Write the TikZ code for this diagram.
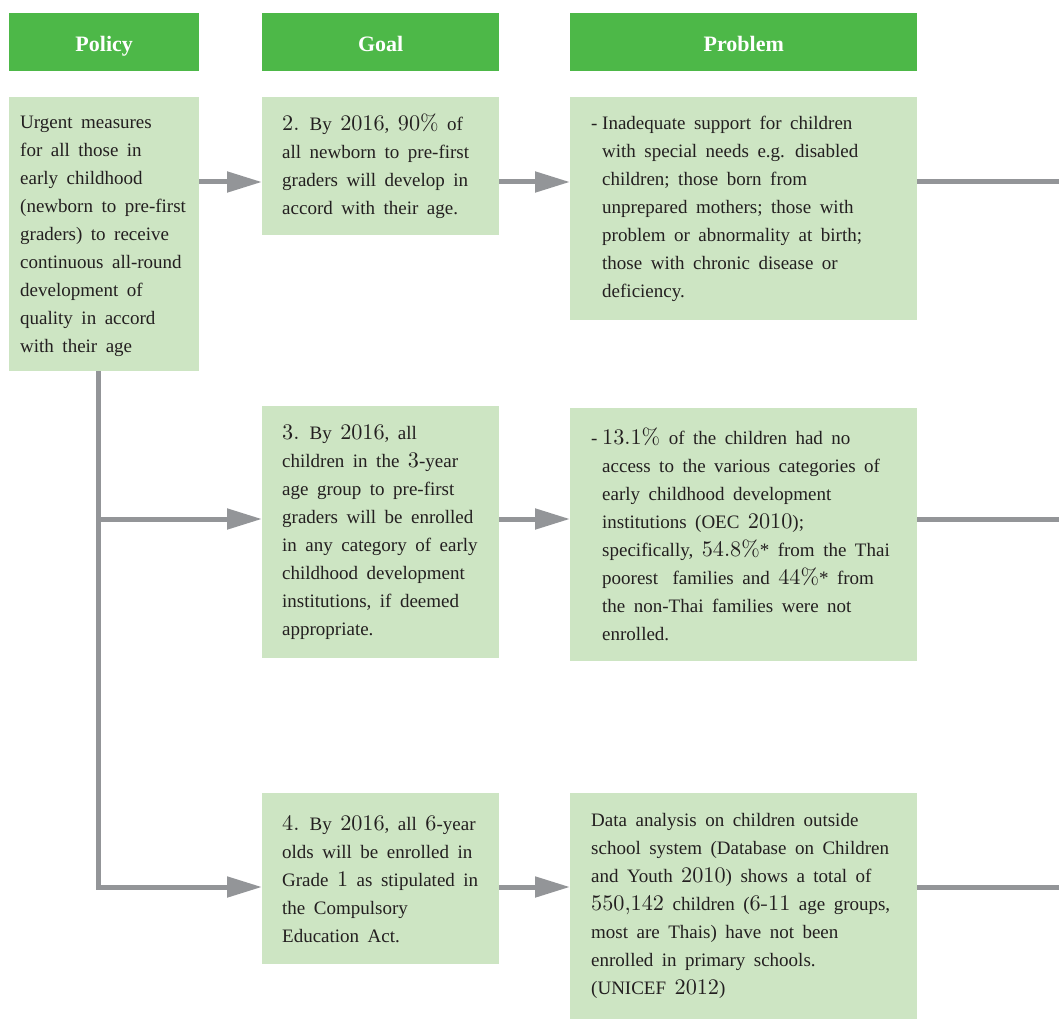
\documentclass[tikz,border=0pt]{standalone}
\usepackage{fontspec}
\setmainfont{Liberation Serif}
\newfontfamily\lmr[Scale=1.17]{lmroman10-regular.otf}
\usetikzlibrary{arrows.meta}
\definecolor{hdr}{HTML}{4DB848}
\definecolor{bx}{HTML}{CDE5C3}
\definecolor{ln}{HTML}{939598}
\definecolor{tx}{HTML}{231F20}
\newcommand\nm[1]{{\lmr #1}}
\newcommand\ind{\hspace*{11pt}}
\newcommand\dsh{\makebox[11pt][l]{-}}
\newcommand\widesp{\spaceskip=8.5pt plus 2pt minus 1pt\relax}
\begin{document}
\begin{tikzpicture}[x=1pt,y=-1pt,
 hdrbox/.style={fill=hdr, draw=none, anchor=north west, inner sep=0pt, text=white, text height=18pt, text depth=0pt, font=\fontsize{22}{26}\selectfont\bfseries},
 bxs/.style={fill=bx, draw=none, anchor=north west, inner sep=0pt},
 txt/.style={anchor=west, inner sep=0pt, align=left, text=tx, font=\fontsize{19}{28}\selectfont, execute at begin node=\widesp},
 conn/.style={draw=ln, line width=5pt},
 arr/.style={conn, -{Triangle[length=35pt,width=20pt]}}]
\useasboundingbox (0,0) rectangle (1059,1019);

% headers
\node[hdrbox, minimum width=190pt, minimum height=58pt] (hpol) at (9,13) {Policy};
\node[hdrbox, minimum width=237pt, minimum height=58pt] (hgoal) at (262,13) {Goal};
\node[hdrbox, minimum width=347pt, minimum height=58pt] (hprob) at (570,13) {Problem};

% boxes
\node[bxs, minimum width=190pt, minimum height=274pt] (pol) at (9,97) {};
\node[bxs, minimum width=237pt, minimum height=138pt] (g2) at (262,97) {};
\node[bxs, minimum width=347pt, minimum height=223pt] (p1) at (570,97) {};
\node[bxs, minimum width=237pt, minimum height=252pt] (g3) at (262,406) {};
\node[bxs, minimum width=347pt, minimum height=253pt] (p2) at (570,408) {};
\node[bxs, minimum width=237pt, minimum height=171pt] (g4) at (262,793) {};
\node[bxs, minimum width=347pt, minimum height=226pt] (p3) at (570,793) {};

% texts
\node[txt, xshift=11pt, yshift=-2pt] (tpol) at (pol.west) {Urgent measures\\for all those in\\early childhood\\(newborn to pre-first\\graders) to receive\\continuous all-round\\development of\\quality in accord\\with their age};
\node[txt, xshift=20pt] (tg2) at (g2.west) {\nm{2.} By \nm{2016}, \nm{90\%} of\\all newborn to pre-first\\graders will develop in\\accord with their age.};
\node[txt, xshift=21pt] (tp1) at (p1.west) {\dsh Inadequate support for children\\\ind with special needs e.g. disabled\\\ind children; those born from\\\ind unprepared mothers; those with\\\ind problem or abnormality at birth;\\\ind those with chronic disease or\\\ind deficiency.};
\node[txt, xshift=20pt] (tg3) at (g3.west) {\nm{3.} By \nm{2016}, all\\children in the \nm{3}-year\\age group to pre-first\\graders will be enrolled\\in any category of early\\childhood development\\institutions, if deemed\\appropriate.};
\node[txt, xshift=21pt] (tp2) at (p2.west) {\dsh \nm{13.1\%} of the children had no\\\ind access to the various categories of\\\ind early childhood development\\\ind institutions (OEC \nm{2010});\\\ind specifically, \nm{54.8\%}* from the Thai\\\ind poorest\hspace{6pt} families and \nm{44\%}* from\\\ind the non-Thai families were not\\\ind enrolled.};
\node[txt, xshift=20pt] (tg4) at (g4.west) {\nm{4.} By \nm{2016}, all \nm{6}-year\\olds will be enrolled in\\Grade \nm{1} as stipulated in\\the Compulsory\\Education Act.};
\node[txt, xshift=21pt] (tp3) at (p3.west) {Data analysis on children outside\\school system (Database on Children\\and Youth \nm{2010}) shows a total of\\\nm{550,142} children (\nm{6-11} age groups,\\most are Thais) have not been\\enrolled in primary schools.\\(UNICEF \nm{2012})};

% helper coordinates
\coordinate (r1) at (0,182);
\coordinate (r2) at (0,519);
\coordinate (r3) at (0,887);
\coordinate (tr) at (98.5,0);
\coordinate (e1) at (1059,182);
\coordinate (e2) at (1059,519);
\coordinate (e3) at (1059,887);

% connectors
\draw[arr] (pol.east |- r1) -- (g2.west |- r1);
\draw[arr] (g2.east |- r1) -- (p1.west |- r1);
\draw[conn] (p1.east |- r1) -- (e1);
\draw[arr, line join=miter] (pol.south -| tr) -- (tr |- r3) -- (g4.west |- r3);
\draw[arr] (tr |- r2) -- (g3.west |- r2);
\draw[arr] (g3.east |- r2) -- (p2.west |- r2);
\draw[conn] (p2.east |- r2) -- (e2);
\draw[arr] (g4.east |- r3) -- (p3.west |- r3);
\draw[conn] (p3.east |- r3) -- (e3);
\end{tikzpicture}
\end{document}
